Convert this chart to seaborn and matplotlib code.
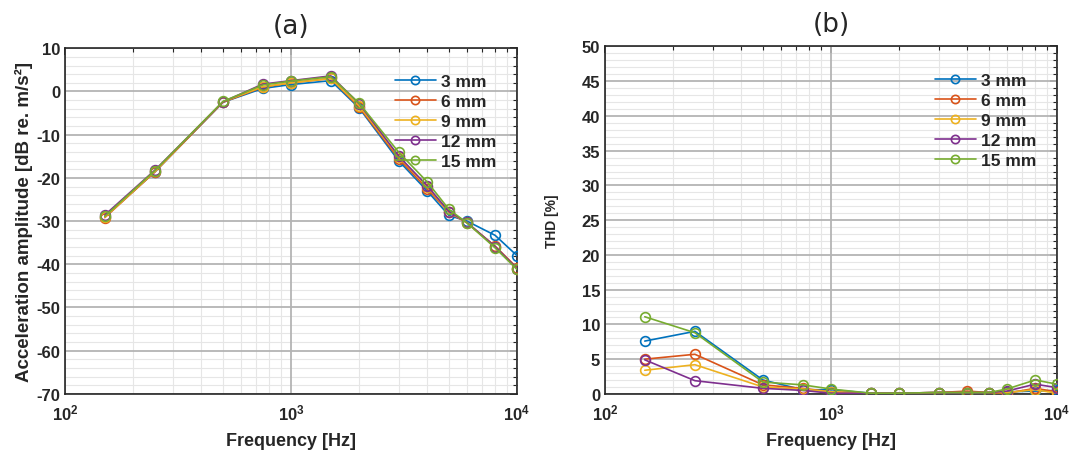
import math
import matplotlib
matplotlib.use("Agg")
import matplotlib.pyplot as plt
import matplotlib.ticker as mticker
import seaborn as sns
import pandas as pd

freqs = [150, 250, 500, 750, 1000, 1500, 2000, 3000, 4000, 5000, 6000, 8000, 10000]
series_labels = ["3 mm", "6 mm", "9 mm", "12 mm", "15 mm"]

accel_3 = [-29.0, -18.6, -2.5, 0.7, 1.6, 2.5, -3.8, -16.1, -23.0, -28.7, -30.0, -33.3, -38.0]
accel_6 = [-29.2, -18.6, -2.5, 1.0, 2.0, 3.0, -3.6, -15.6, -22.5, -28.0, -30.4, -35.8, -40.8]
accel_9 = [-29.1, -18.5, -2.4, 1.1, 2.0, 3.0, -3.3, -15.2, -22.0, -28.0, -30.3, -36.0, -41.0]
accel_12 = [-28.6, -18.2, -2.4, 1.7, 2.5, 3.6, -2.8, -15.0, -21.8, -27.8, -30.3, -35.9, -41.0]
accel_15 = [-28.9, -18.3, -2.3, 1.5, 2.4, 3.4, -2.7, -14.1, -20.9, -27.3, -30.4, -36.2, -41.2]

thd_3 = [7.6, 9.0, 2.0, 0.6, 0.6, 0.1, 0.1, 0.2, 0.2, 0.2, 0.3, 0.4, 0.5]
thd_6 = [5.0, 5.7, 1.3, 0.8, 0.3, 0.1, 0.1, 0.2, 0.4, 0.2, 0.1, 0.8, 0.3]
thd_9 = [3.4, 4.2, 1.0, 0.7, 0.3, 0.1, 0.1, 0.2, 0.2, 0.2, 0.2, 0.6, 0.1]
thd_12 = [4.9, 1.9, 0.8, 0.5, 0.1, 0.1, 0.1, 0.2, 0.2, 0.2, 0.4, 1.4, 0.9]
thd_15 = [11.1, 8.8, 1.7, 1.3, 0.7, 0.1, 0.1, 0.2, 0.2, 0.2, 0.7, 2.0, 1.4]

accel = [accel_3, accel_6, accel_9, accel_12, accel_15]
thd = [thd_3, thd_6, thd_9, thd_12, thd_15]
colors = ["#0072BD", "#D95319", "#EDB120", "#7E2F8E", "#77AC30"]

sns.set_theme(style="white")
plt.rcParams["font.family"] = ["Liberation Sans", "DejaVu Sans"]
plt.rcParams["axes.unicode_minus"] = False
plt.rcParams["mathtext.fontset"] = "custom"
plt.rcParams["mathtext.bf"] = "Liberation Sans:bold"
plt.rcParams["mathtext.rm"] = "Liberation Sans"

fig = plt.figure(figsize=(10.78, 4.56), dpi=100)
ax1 = fig.add_axes([0.0603, 0.134, 0.4193, 0.758])
ax2 = fig.add_axes([0.5612, 0.134, 0.4193, 0.762])

DARK = "#262626"


def style_axes(ax, ylim, ymaj, ymin, title, ylabel, ylabel_size):
    ax.set_xscale("log")
    ax.set_xlim(100, 10000)
    ax.set_ylim(*ylim)
    ax.yaxis.set_major_locator(mticker.MultipleLocator(ymaj))
    ax.yaxis.set_minor_locator(mticker.MultipleLocator(ymin))
    ax.xaxis.set_major_locator(mticker.LogLocator(base=10, numticks=5))
    ax.xaxis.set_minor_locator(mticker.LogLocator(base=10, subs=range(2, 10), numticks=20))
    ax.xaxis.set_major_formatter(mticker.FuncFormatter(
        lambda v, p: r"$\mathbf{10^{%d}}$" % round(math.log10(v))))
    ax.xaxis.set_minor_formatter(mticker.NullFormatter())
    ax.grid(which="minor", color="#e6e6e6", linewidth=0.8)
    ax.grid(which="major", visible=False)
    ax.set_axisbelow(True)
    for xv in ax.get_xticks():
        if 100 <= xv <= 10000:
            ax.axvline(xv, color="#b4b4b4", linewidth=1.3, zorder=0.8)
    for yv in ax.get_yticks():
        if ylim[0] <= yv <= ylim[1]:
            ax.axhline(yv, color="#b4b4b4", linewidth=1.3, zorder=0.8)
    ax.tick_params(which="both", direction="in", top=True, right=True,
                   colors=DARK, labelcolor=DARK)
    ax.tick_params(which="major", length=5, width=1.2, labelsize=12)
    ax.tick_params(which="minor", length=3, width=0.8)
    ax.tick_params(axis="x", which="major", pad=6)
    for lab in ax.get_yticklabels():
        lab.set_fontweight("bold")
    for s in ax.spines.values():
        s.set_color(DARK)
        s.set_linewidth(1.2)
    ax.set_title(title, fontsize=19, pad=11, color=DARK, family="DejaVu Sans")
    ax.set_xlabel("Frequency [Hz]", fontsize=13, fontweight="bold", color=DARK, labelpad=7)
    ax.set_ylabel(ylabel, fontsize=ylabel_size, fontweight="bold", color=DARK)


for data, ax in ((accel, ax1), (thd, ax2)):
    for lab, vals, c in zip(series_labels, data, colors):
        df = pd.DataFrame({"Frequency": freqs, "Value": vals})
        sns.lineplot(data=df, x="Frequency", y="Value", ax=ax, color=c, marker="o",
                     markersize=7, markerfacecolor="none", markeredgecolor=c,
                     markeredgewidth=1.2, linewidth=1.2, label=lab, zorder=3)

style_axes(ax1, (-70, 10), 10, 2, "(a)", "Acceleration amplitude [dB re. m/s²]", 13.5)
style_axes(ax2, (0, 50), 5, 1, "(b)", "THD [%]", 10)

for ax in (ax1, ax2):
    leg = ax.legend(loc="upper right", frameon=False, fontsize=12.5,
                    handlelength=2.4, handletextpad=0.3, labelspacing=0.28,
                    bbox_to_anchor=(0.99, 0.97), markerscale=0.85)
    for t in leg.get_texts():
        t.set_fontweight("bold")
        t.set_color(DARK)

ax1.yaxis.labelpad = 2
ax2.yaxis.labelpad = 16

fig.savefig("out.png", dpi=100, facecolor="white")
